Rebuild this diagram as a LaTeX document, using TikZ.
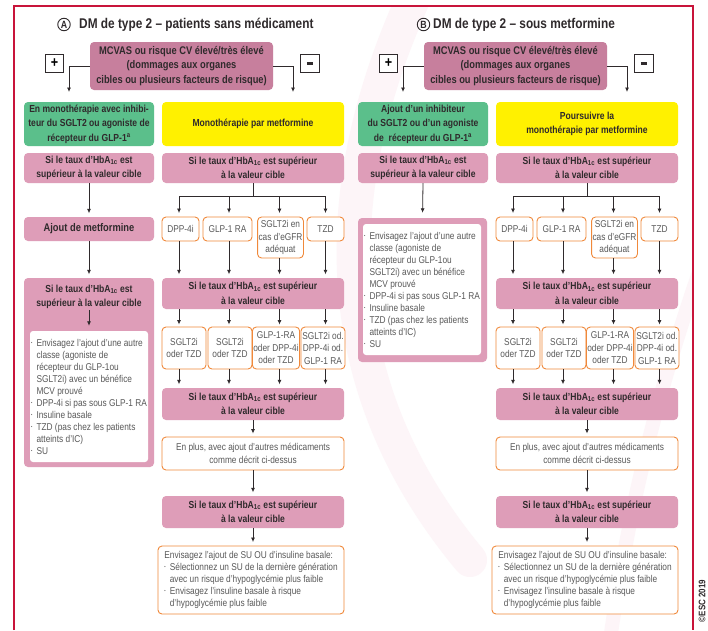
\documentclass[tikz,border=0pt]{standalone}
\usepackage{fontspec}
\setmainfont[FakeStretch=0.84]{Liberation Sans}
\usetikzlibrary{arrows.meta}

\definecolor{mauve}{HTML}{C77F9D}
\definecolor{pinkbox}{HTML}{DE9DB8}
\definecolor{greenbox}{HTML}{5BBF8B}
\definecolor{yellowbox}{HTML}{FFF100}
\definecolor{orangeline}{HTML}{F0893B}
\definecolor{framered}{HTML}{C8143A}
\definecolor{inkdark}{HTML}{2F2A2C}
\definecolor{inkgrey}{HTML}{595959}
\definecolor{wash}{HTML}{FDF5F8}

\newcommand\hba{HbA\textsubscript{1c}}
\newcommand\bul{\makebox[5.5pt][l]{\raisebox{2pt}{\fontsize{4.5}{4.5}\selectfont\textbullet}}}
\newcommand\ind{\hspace*{5.5pt}}
% box from (x1,y1) to (x2,y2) in pixel units: style, name, x1, y1, x2, y2, text
\newcommand\bx[7]{%
  \pgfmathsetmacro\bw{#5-#3}%
  \pgfmathsetmacro\bh{#6-#4}%
  \node[#1,minimum width=\bw pt,minimum height=\bh pt] (#2) at ({(#3+#5)/2},{(#4+#6)/2}) {#7};}

\tikzset{
  box/.style={rounded corners=4pt,inner sep=1pt,align=center},
  boldtext/.style={font=\bfseries\fontsize{10.2}{14.5}\selectfont,text=inkdark},
  mauvebox/.style={box,fill=mauve,font=\bfseries\fontsize{11.1}{14.5}\selectfont,text=inkdark},
  pinkb/.style={box,fill=pinkbox,boldtext},
  greenb/.style={box,fill=greenbox,boldtext},
  yellowb/.style={box,fill=yellowbox,boldtext},
  optb/.style={box,draw=orangeline,line width=0.9pt,fill=white,font=\fontsize{9.9}{12.5}\selectfont,text=inkgrey},
  listb/.style={optb,align=left,font=\fontsize{9.9}{12.2}\selectfont},
  whiteb/.style={box,rounded corners=3pt,fill=white,align=left,font=\fontsize{9.9}{12}\selectfont,text=inkgrey},
  signb/.style={draw=inkdark,line width=0.9pt,fill=white,minimum size=18.5pt,inner sep=0pt},
  link/.style={draw=inkdark,line width=0.8pt},
  arr/.style={link,-{Latex[length=4.5pt,width=4pt]},shorten >=3.5pt},
  titletext/.style={font=\bfseries\fontsize{14.1}{16}\selectfont,text=inkdark,inner sep=0pt,anchor=west},
  circ/.style={circle,draw=inkdark,line width=0.9pt,inner sep=0pt,minimum size=12.5pt,font=\bfseries\fontsize{10.5}{10}\selectfont,text=inkdark},
  washline/.style={draw=wash,line cap=round},
}

% parts shared by both panels, in the coordinates of panel A
\newcommand\panelcommon{%
  \bx{mauvebox}{top}{90}{42}{273}{90}{MCVAS ou risque CV élevé/très élevé\\(dommages aux organes\\cibles ou plusieurs facteurs de risque)}
  \node[signb] (plus) at (54.5,63.5) {\fontsize{15}{15}\selectfont\bfseries +};
  \node[signb] (minus) at (310,63.5) {\textcolor{inkdark}{\rule{6.5pt}{2.6pt}}};
  \coordinate (pL) at (69,92);
  \coordinate (pR) at (293,92);
  \draw[arr,shorten >=0pt] (top.west) -| (pL);
  \draw[arr,shorten >=0pt] (top.east) -| (pR);
  \bx{pinkb}{l2}{24}{153}{154}{183}{Si le taux d’\hba{} est\\supérieur à la valeur cible}
  \bx{pinkb}{r2}{162}{153}{344}{183}{Si le taux d’\hba{} est supérieur\\à la valeur cible}
  \coordinate (j) at (253,196);
  \coordinate (c1) at (179,0);
  \coordinate (c2) at (229,0);
  \coordinate (c3) at (279.5,0);
  \coordinate (c4) at (325.5,0);
  \bx{optb}{o1}{162}{217}{199}{241}{DPP-4i}
  \bx{optb}{o2}{203}{217}{252}{241}{GLP-1 RA}
  \bx{optb}{o3}{258}{217}{303}{258}{SGLT2i en\\cas d’eGFR\\adéquat}
  \bx{optb}{o4}{307}{217}{344}{241}{TZD}
  \draw[link] (r2.south) -- (j);
  \draw[link] (j -| c1) -- (j -| c4);
  \foreach \i in {1,...,4} {\draw[arr] (j -| c\i) -- (o\i.north -| c\i);}
  \bx{pinkb}{r4}{162}{278}{344}{309}{Si le taux d’\hba{} est supérieur\\à la valeur cible}
  \foreach \i in {1,...,4} {\draw[arr] (o\i.south -| c\i) -- (r4.north -| c\i);}
  \bx{optb}{q1}{162}{327}{206}{369}{SGLT2i\\oder TZD}
  \bx{optb}{q2}{208}{327}{252}{369}{SGLT2i\\oder TZD}
  \bx{optb}{q3}{254}{327}{298}{369}{GLP-1-RA\\oder DPP-4i\\oder TZD}
  \bx{optb}{q4}{301}{327}{345}{369}{SGLT2i od.\\DPP-4i od.\\GLP-1 RA}
  \foreach \i in {1,...,4} {\draw[arr,shorten >=2pt] (r4.south -| c\i) -- (q\i.north -| c\i);}
  \bx{pinkb}{r6}{162}{388}{344}{420}{Si le taux d’\hba{} est supérieur\\à la valeur cible}
  \foreach \i in {1,...,4} {\draw[arr] (q\i.south -| c\i) -- (r6.north -| c\i);}
  \bx{optb}{w7}{162}{437}{344}{470}{En plus, avec ajout d’autres médicaments\\comme décrit ci-dessus}
  \draw[arr,shorten >=3pt] (r6.south) -- (w7.north);
  \bx{pinkb}{r8}{162}{496}{344}{528}{Si le taux d’\hba{} est supérieur\\à la valeur cible}
  \draw[arr] (w7.south) -- (r8.north);
  \bx{listb}{w9}{158}{546}{344}{614}{Envisagez l’ajout de SU OU d’insuline basale:\\
    \bul Sélectionnez un SU de la dernière génération\\
    \ind avec un risque d’hypoglycémie plus faible\\
    \bul Envisagez l’insuline basale à risque\\
    \ind d’hypoglycémie plus faible}
  \draw[arr] (r8.south) -- (r8.south |- w9.north);
}

\newcommand\classlist{%
  \bul Envisagez l’ajout d’une autre\\
  \ind classe (agoniste de\\
  \ind récepteur du GLP-1ou\\
  \ind SGLT2i) avec un bénéfice\\
  \ind MCV prouvé\\
  \bul DPP-4i si pas sous GLP-1 RA\\
  \bul Insuline basale\\
  \bul TZD (pas chez les patients\\
  \ind atteints d’IC)\\
  \bul SU}

\begin{document}
\begin{tikzpicture}[x=1pt,y=-1pt]
  \useasboundingbox (0,0) rectangle (708,630);
  \fill[white] (0,0) rectangle (708,630);

  % faint logo watermark behind the charts
  \begin{scope}
    \clip (14,6) rectangle (693,630);
    \draw[washline,line width=34pt] (415,-5) .. controls (330,180) and (320,380) .. (470,560);
    \draw[washline,line width=14pt] (712,235) .. controls (660,380) and (630,500) .. (610,640);
  \end{scope}

  % outer frame, open at the bottom
  \draw[framered,line width=1.1pt] (14,630) -- (14,6) -- (693,6) -- (693,630);

  % panel A: patients without medication
  \node[titletext] (tA) at (79,24.5) {DM de type 2 – patients sans médicament};
  \node[circ] (cA) at (64,24.5) {A};
  \panelcommon
  \bx{greenb}{g1}{24}{102}{154}{146}{En monothérapie avec inhibi-\\teur du SGLT2 ou agoniste de\\récepteur du GLP-1\textsuperscript{a}}
  \bx{yellowb}{y1}{162}{102}{344}{146}{Monothérapie par metformine}
  \bx{pinkb,font=\bfseries\fontsize{11.1}{14.5}\selectfont}{l3}{24}{217}{154}{241}{Ajout de metformine}
  \draw[arr] (l2.south) -- (l3.north);
  \bx{pinkb}{l4}{24}{278}{154}{467}{}
  \node[boldtext,align=center,inner sep=1pt] (l4t) at (89,297) {Si le taux d’\hba{} est\\supérieur à la valeur cible};
  \draw[arr] (l3.south) -- (l4.north);
  \bx{whiteb}{l4w}{30}{331}{148}{462}{\classlist}
  \draw[arr,shorten >=5pt] (l4t.south) -- (l4w.north);

  % panel B: patients on metformin
  \begin{scope}[xshift=334pt,name prefix=B-]
    \node[titletext] (tB) at (99,24.5) {DM de type 2 – sous metformine};
    \node[circ] (cB) at (89.5,24.5) {B};
    \panelcommon
    \bx{greenb}{g1}{24}{102}{154}{146}{Ajout d’un inhibiteur\\du SGLT2 ou d’un agoniste\\de\ \ récepteur du GLP-1\textsuperscript{a}}
    \bx{yellowb}{y1}{162}{102}{344}{146}{Poursuivre la\\monothérapie par metformine}
    \bx{pinkb}{l3}{24}{218}{153}{362}{}
    \bx{whiteb}{l3w}{29}{224}{147}{355}{\classlist}
    \draw[arr,shorten >=5pt] (l2.south) -- (l3.north);
  \end{scope}

  \node[rotate=90,font=\bfseries\fontsize{9.5}{9.5}\selectfont,text=inkdark,inner sep=0pt] (copy) at (702,601) {©ESC 2019};
\end{tikzpicture}
\end{document}
